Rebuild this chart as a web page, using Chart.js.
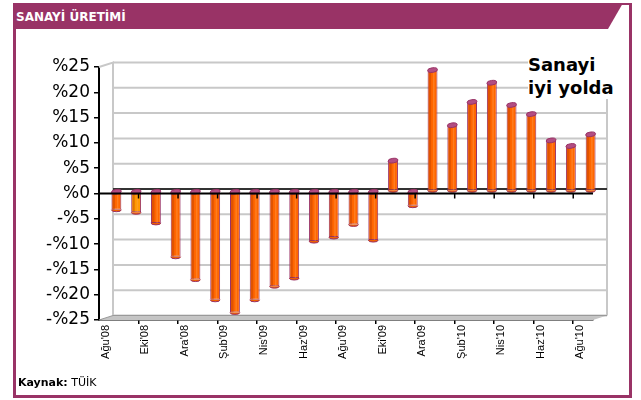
<!DOCTYPE html>
<html>
<head>
<meta charset="utf-8">
<script src="https://cdn.jsdelivr.net/npm/chart.js@4.4.1/dist/chart.umd.min.js"></script>
<style>
  body { margin: 0; background: #fff; width: 641px; height: 400px; overflow: hidden; position: relative; }
  #frame { position: absolute; left: 13px; top: 3px; width: 619px; height: 395px; box-sizing: border-box;
           border: 3px solid #993366; border-top-width: 2px; }
  #title { position: absolute; left: 13px; top: 3px; width: 610px; height: 26px; background: #993366;
           clip-path: polygon(0 0, 100% 0, calc(100% - 15px) 100%, 0 100%); z-index: 2; }
  #title span { position: absolute; left: 3px; top: 7px; line-height: 14px; font: bold 12px "DejaVu Sans", sans-serif;
                color: #fff; letter-spacing: 0; }
  #note { position: absolute; left: 528px; top: 53px; font: bold 18px "DejaVu Sans", sans-serif; line-height: 23px;
          color: #000; background: #fff; z-index: 3; }
  #source { position: absolute; left: 18px; top: 377px; font: 11px "DejaVu Sans", sans-serif; line-height: 11px; color: #000; z-index: 3; }
  #wrap { position: absolute; left: 0; top: 0; width: 641px; height: 400px; z-index: 1; }
</style>
</head>
<body>
<div id="frame"></div>
<div id="title"><span>SANAYİ ÜRETİMİ</span></div>
<div id="note">Sanayi<br>iyi yolda</div>
<div id="source"><b>Kaynak:</b> TÜİK</div>
<div id="wrap"><canvas id="chart"></canvas></div>
<script>
const MONTHS = ["Ağu'08", "Eyl'08", "Eki'08", "Kas'08", "Ara'08", "Oca'09", "Şub'09", "Mar'09", "Nis'09",
                "May'09", "Haz'09", "Tem'09", "Ağu'09", "Eyl'09", "Eki'09", "Kas'09", "Ara'09", "Oca'10",
                "Şub'10", "Mar'10", "Nis'10", "May'10", "Haz'10", "Tem'10", "Ağu'10"];
const GROWTH = [-3.7, -4.2, -6.3, -13.0, -17.5, -21.5, -24.0, -21.5, -18.8, -17.2, -9.9, -9.1, -6.6,
                -9.7, 6.0, -2.9, 23.9, 13.0, 17.6, 21.4, 17.0, 15.2, 10.0, 8.9, 11.2];
const Y_MIN = -25;
const Y_MAX = 25;
const Y_STEP = 5;

// fake 3D: back wall offset and bar depth offset
const WALL = { dx: 14, dy: -4.5 };
const BARS = { dx: 7.5, dy: -2.5 };

const pct = v => (v < 0 ? '-%' + (-v) : '%' + v);

const fake3d = {
    id: 'fake3d',
    beforeDatasetsDraw(chart) {
        const { ctx, chartArea: a, scales: { y } } = chart;
        ctx.save();
        // floor
        ctx.fillStyle = '#c4c4c4';
        ctx.beginPath();
        ctx.moveTo(a.left, a.bottom);
        ctx.lineTo(a.right, a.bottom);
        ctx.lineTo(a.right + WALL.dx, a.bottom + WALL.dy);
        ctx.lineTo(a.left + WALL.dx, a.bottom + WALL.dy);
        ctx.closePath();
        ctx.fill();
        // back wall grid
        ctx.strokeStyle = '#c8c8c8';
        ctx.lineWidth = 2;
        y.ticks.forEach(t => {
            if (t.value === 0) return;
            const py = y.getPixelForValue(t.value) + WALL.dy;
            ctx.beginPath();
            ctx.moveTo(a.left + WALL.dx, py);
            ctx.lineTo(a.right + WALL.dx, py);
            ctx.stroke();
        });
        ctx.beginPath();
        ctx.moveTo(a.left, a.top);
        ctx.lineTo(a.left + WALL.dx, a.top + WALL.dy);
        ctx.lineTo(a.left + WALL.dx, a.bottom + WALL.dy);
        ctx.moveTo(a.right + WALL.dx, a.top + WALL.dy);
        ctx.lineTo(a.right + WALL.dx, a.bottom + WALL.dy);
        ctx.stroke();
        ctx.strokeStyle = '#999';
        ctx.lineWidth = 1;
        ctx.beginPath();
        ctx.moveTo(a.left, a.bottom);
        ctx.lineTo(a.left + WALL.dx, a.bottom + WALL.dy);
        ctx.lineTo(a.right + WALL.dx, a.bottom + WALL.dy);
        ctx.stroke();
        // back zero line
        const z = y.getPixelForValue(0);
        ctx.strokeStyle = '#333';
        ctx.lineWidth = 2;
        ctx.beginPath();
        ctx.moveTo(a.left + WALL.dx, z + WALL.dy);
        ctx.lineTo(a.right + WALL.dx, z + WALL.dy);
        ctx.stroke();
        ctx.restore();
        // bars sit in the middle of the depth
        ctx.save();
        ctx.translate(BARS.dx, BARS.dy);
    },
    afterDatasetsDraw(chart) {
        const { ctx, chartArea: a, scales: { x, y } } = chart;
        chart.getDatasetMeta(0).data.forEach(bar => {
            const { x: bx, y: by, base, width } = bar.getProps(['x', 'y', 'base', 'width'], true);
            const top = Math.min(by, base);
            const bot = Math.max(by, base);
            const l = bx - width / 2;
            ctx.fillStyle = 'rgba(170,50,0,0.35)';
            ctx.fillRect(l + 1, top, 2.5, bot - top);
            ctx.fillStyle = 'rgba(255,170,90,0.35)';
            ctx.fillRect(bx + 0.5, top, 1.5, bot - top);
            // rounded bottom
            ctx.beginPath();
            ctx.ellipse(bx, bot, width / 2, 2, 0, 0, Math.PI);
            ctx.fillStyle = '#f06000';
            ctx.fill();
            ctx.strokeStyle = '#993366';
            ctx.lineWidth = 1;
            ctx.stroke();
            // top cap
            ctx.beginPath();
            ctx.ellipse(bx, top, width / 2, 2.3, -0.12, 0, Math.PI * 2);
            ctx.fillStyle = '#b24d82';
            ctx.fill();
            ctx.strokeStyle = '#993366';
            ctx.stroke();
        });
        ctx.restore();
        // front zero line with ticks
        const z = y.getPixelForValue(0);
        ctx.save();
        ctx.strokeStyle = '#000';
        ctx.lineWidth = 2;
        ctx.beginPath();
        ctx.moveTo(a.left, z);
        ctx.lineTo(a.right, z);
        ctx.stroke();
        ctx.lineWidth = 1.5;
        for (let k = 2; k < MONTHS.length; k += 2) {
            const px = (x.getPixelForValue(k - 1) + x.getPixelForValue(k)) / 2;
            ctx.beginPath();
            ctx.moveTo(px, z);
            ctx.lineTo(px, z + 5);
            ctx.stroke();
        }
        ctx.restore();
    },
};

new Chart(document.getElementById('chart'), {
    type: 'bar',
    data: {
        labels: MONTHS,
        datasets: [{
            data: GROWTH,
            backgroundColor: c => (c.dataIndex === 1 ? '#ff9900' : '#ff6600'),
            borderColor: '#993366',
            borderWidth: 1,
            borderSkipped: false,
            categoryPercentage: 1,
            barPercentage: 0.5,
        }],
    },
    options: {
        responsive: true,
        maintainAspectRatio: false,
        animation: false,
        layout: { padding: { left: 0, right: 48, top: 67, bottom: 0 } },
        plugins: { legend: { display: false }, tooltip: { enabled: false } },
        scales: {
            x: {
                afterFit: s => { s.height = 80; },
                grid: {
                    drawOnChartArea: false,
                    tickLength: 4,
                    lineWidth: 1.5,
                    color: c => (c.index > 0 && c.index % 2 === 0 ? '#000' : 'rgba(0,0,0,0)'),
                },
                border: { color: '#000', width: 1.5 },
                ticks: {
                    autoSkip: false,
                    minRotation: 90,
                    maxRotation: 90,
                    padding: 1,
                    labelOffset: -3,
                    color: '#000',
                    font: { family: '"Liberation Sans", Arial, sans-serif', size: 11 },
                    callback: (v, i) => (i % 2 === 0 ? MONTHS[i] : ''),
                },
            },
            y: {
                min: Y_MIN,
                max: Y_MAX,
                afterFit: s => { s.width = 99; },
                grid: { drawOnChartArea: false, tickLength: 5, color: '#000', lineWidth: 1.5 },
                border: { color: '#000', width: 2 },
                ticks: {
                    stepSize: Y_STEP,
                    padding: 4,
                    color: '#000',
                    font: { family: '"DejaVu Sans", sans-serif', size: 17 },
                    callback: v => pct(v),
                },
            },
        },
    },
    plugins: [fake3d],
});
</script>
</body>
</html>
